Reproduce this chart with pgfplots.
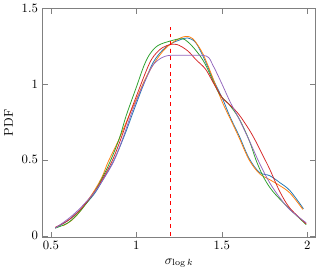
\documentclass[border=0pt]{standalone}
\usepackage{pgfplots}
\pgfplotsset{compat=1.18}
\definecolor{tabblue}{HTML}{1F77B4}
\definecolor{taborange}{HTML}{FF7F0E}
\definecolor{tabgreen}{HTML}{2CA02C}
\definecolor{tabred}{HTML}{D62728}
\definecolor{tabpurple}{HTML}{9467BD}
\begin{document}
\begin{tikzpicture}
\begin{axis}[
  scale only axis,
  width=215pt, height=180pt,
  xmin=0.45, xmax=2.05,
  ymin=-0.01, ymax=1.5,
  xtick={0.5,1,1.5,2},
  ytick={0,0.5,1,1.5},
  xlabel={$\sigma_{\log k}$},
  ylabel={PDF},
  axis line style={black!50},
  tick style={black!50},
  every axis plot/.append style={line width=0.6pt, smooth, tension=0.55},
]
\addplot[tabblue] coordinates {
(0.525,0.05) (0.6,0.10) (0.67,0.17) (0.75,0.27) (0.8,0.36) (0.87,0.50) (0.93,0.66) (0.982,0.818) (1.04,0.99) (1.097,1.14) (1.15,1.22) (1.2,1.265) (1.25,1.29) (1.3,1.305) (1.35,1.27) (1.404,1.15) (1.45,1.03) (1.503,0.907) (1.55,0.78) (1.6,0.663) (1.66,0.51) (1.72,0.418) (1.78,0.396) (1.84,0.35) (1.9,0.296) (1.978,0.178)
};
\addplot[taborange] coordinates {
(0.57,0.065) (0.62,0.10) (0.67,0.16) (0.75,0.29) (0.8,0.39) (0.834,0.485) (0.9,0.64) (0.96,0.80) (1.0,0.90) (1.05,1.03) (1.1,1.13) (1.15,1.21) (1.2,1.265) (1.25,1.30) (1.29,1.315) (1.33,1.30) (1.38,1.22) (1.42,1.12) (1.5,0.89) (1.55,0.77) (1.6,0.65) (1.66,0.50) (1.72,0.41) (1.78,0.37) (1.84,0.33) (1.9,0.28) (1.975,0.173)
};
\addplot[tabgreen] coordinates {
(0.525,0.05) (0.6,0.085) (0.67,0.16) (0.75,0.28) (0.8,0.38) (0.845,0.485) (0.9,0.64) (0.94,0.79) (1.0,0.98) (1.044,1.12) (1.08,1.20) (1.127,1.255) (1.2,1.285) (1.265,1.30) (1.3,1.28) (1.35,1.22) (1.404,1.13) (1.483,0.94) (1.54,0.87) (1.6,0.775) (1.66,0.63) (1.7,0.50) (1.74,0.396) (1.78,0.32) (1.82,0.265) (1.9,0.173) (1.994,0.073)
};
\addplot[tabred] coordinates {
(0.525,0.055) (0.6,0.10) (0.67,0.17) (0.75,0.28) (0.8,0.37) (0.855,0.485) (0.9,0.61) (0.96,0.80) (1.0,0.92) (1.078,1.14) (1.13,1.22) (1.18,1.255) (1.236,1.262) (1.3,1.22) (1.35,1.16) (1.404,1.10) (1.45,1.01) (1.503,0.91) (1.55,0.86) (1.6,0.80) (1.66,0.70) (1.7,0.62) (1.74,0.53) (1.78,0.44) (1.84,0.29) (1.9,0.18) (1.994,0.078)
};
\addplot[tabpurple] coordinates {
(0.525,0.05) (0.6,0.11) (0.67,0.18) (0.75,0.28) (0.8,0.36) (0.865,0.485) (0.92,0.64) (0.975,0.818) (1.03,0.97) (1.067,1.06) (1.1,1.13) (1.15,1.175) (1.2,1.19) (1.3,1.19) (1.41,1.185) (1.45,1.12) (1.503,0.996) (1.55,0.88) (1.6,0.773) (1.66,0.63) (1.72,0.48) (1.78,0.35) (1.84,0.25) (1.9,0.17) (1.994,0.085)
};
\addplot[red, dashed, line width=1pt, smooth=false] coordinates {(1.2,0) (1.2,1.38)};
\end{axis}
\end{tikzpicture}
\end{document}
